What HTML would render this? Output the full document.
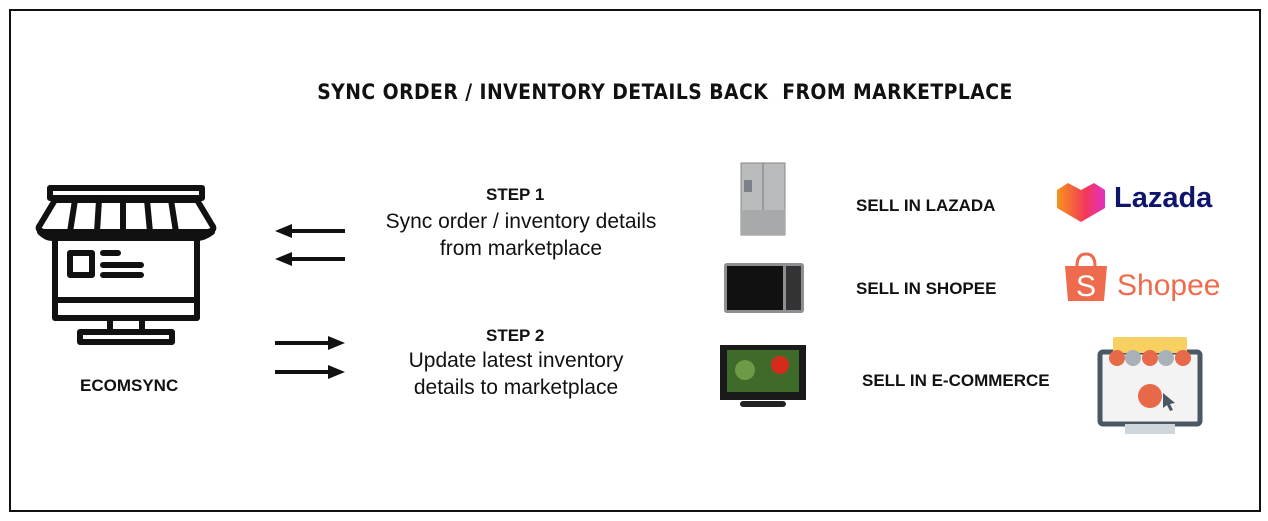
<!DOCTYPE html>
<html><head><style>
body{margin:0;width:1268px;height:521px;background:#fff;position:relative;font-family:"Liberation Sans",sans-serif;overflow:hidden}
.a{position:absolute;white-space:nowrap}
.b{font-weight:bold;color:#111}
</style></head><body>
<div class="a" style="left:9px;top:9px;width:1248px;height:499px;border:2px solid #111"></div>
<div class="a b" style="left:31px;width:1268px;text-align:center;top:80px;font-size:21px;letter-spacing:0.5px;font-family:'DejaVu Sans',sans-serif;transform:scaleX(0.895)">SYNC ORDER / INVENTORY DETAILS BACK &nbsp;FROM MARKETPLACE</div>

<svg class="a" style="left:0;top:0" width="1268" height="521">
 <g fill="none" stroke="#111" stroke-width="6" stroke-linejoin="round" stroke-linecap="round">
  <rect x="50" y="188" width="152" height="10" />
  <path d="M55 200 L40 225 Q36 230 44 232 L208 232 Q216 230 212 225 L197 200 Z"/>
  <path d="M75 200 L70 232 M99 200 L97 232 M123 200 L123 232 M147 200 L150 232 M171 200 L176 232"/>
  <path d="M40 232 Q52 244 64 232 Q76 244 88 232 Q100 244 112 232 Q124 244 136 232 Q148 244 160 232 Q172 244 184 232 Q196 244 212 232"/>
  <rect x="55" y="238" width="142" height="80"/>
  <path d="M55 300 L197 300"/>
  <rect x="70" y="253" width="22" height="22"/>
  <path d="M103 253 L118 253 M103 265 L141 265 M103 275 L141 275"/>
  <rect x="110" y="318" width="32" height="14"/>
  <rect x="80" y="332" width="92" height="10"/>
 </g>
 <g fill="#111">
  <rect x="290" y="229" width="55" height="4"/><polygon points="275,231 292,224 292,238"/>
  <rect x="290" y="257" width="55" height="4"/><polygon points="275,259 292,252 292,266"/>
  <rect x="275" y="341" width="54" height="4"/><polygon points="345,343 328,336 328,350"/>
  <rect x="275" y="370" width="54" height="4"/><polygon points="345,372 328,365 328,379"/>
 </g>
 <rect x="741" y="163" width="44" height="72" fill="#b9bbbd" stroke="#888" />
 <rect x="741" y="210" width="44" height="25" fill="#a7a9ab"/>
 <line x1="763" y1="163" x2="763" y2="210" stroke="#777"/>
 <rect x="744" y="180" width="8" height="12" fill="#7b8089"/>
 <rect x="724" y="263" width="80" height="50" rx="3" fill="#8d8f92"/>
 <rect x="727" y="266" width="56" height="44" fill="#111"/>
 <rect x="786" y="266" width="15" height="44" fill="#333"/>
 <rect x="720" y="345" width="86" height="55" fill="#1a1a1a"/>
 <rect x="727" y="350" width="72" height="42" fill="#3f6b2a"/>
 <circle cx="780" cy="365" r="9" fill="#d62a1a"/>
 <circle cx="745" cy="370" r="10" fill="#6c9a45"/>
 <rect x="740" y="401" width="46" height="6" rx="3" fill="#222"/>
 <defs><linearGradient id="lg" x1="0" x2="1"><stop offset="0" stop-color="#f7941d"/><stop offset="0.6" stop-color="#f2385a"/><stop offset="1" stop-color="#e32fc2"/></linearGradient></defs>
 <path d="M1057 190 L1068 183 L1081 190 L1094 183 L1105 190 L1105 208 L1081 222 L1057 208 Z" fill="url(#lg)"/>
 <path d="M1077 266 Q1077 254 1086 254 Q1095 254 1095 266" fill="none" stroke="#ee6c4d" stroke-width="3"/>
 <path d="M1065 266 L1107 266 L1104 301 L1068 301 Z" fill="#ee6c4d"/>
 <text x="1086" y="296" font-size="30" fill="#fff" text-anchor="middle" font-family="Liberation Sans">S</text>
 <rect x="1100" y="352" width="100" height="72" rx="3" fill="#f3f3f3" stroke="#4a5866" stroke-width="5"/>
 <rect x="1125" y="424" width="50" height="10" fill="#cfd6dc"/>
 <rect x="1113" y="337" width="74" height="16" rx="2" fill="#f8cf61"/>
 <g fill="#e8684a"><circle cx="1117" cy="358" r="8"/><circle cx="1150" cy="358" r="8"/><circle cx="1183" cy="358" r="8"/></g>
 <g fill="#a8b0b8"><circle cx="1133" cy="358" r="8"/><circle cx="1166" cy="358" r="8"/></g>
 <circle cx="1150" cy="396" r="12" fill="#e8684a"/>
 <polygon points="1163,393 1175,403 1170,404 1173,410 1170,411 1167,405 1163,408" fill="#4a5866"/>
</svg>

<div class="a b" style="left:486px;top:185px;font-size:17px">STEP 1</div>
<div class="a" style="left:351px;width:340px;text-align:center;top:208px;font-size:21px;line-height:27px;color:#111">Sync order / inventory details<br>from marketplace</div>
<div class="a b" style="left:486px;top:326px;font-size:17px">STEP 2</div>
<div class="a" style="left:346px;width:340px;text-align:center;top:347px;font-size:21px;line-height:27px;color:#111">Update latest inventory<br>details to marketplace</div>
<div class="a b" style="left:80px;top:376px;font-size:17px">ECOMSYNC</div>
<div class="a b" style="left:856px;top:196px;font-size:17px">SELL IN LAZADA</div>
<div class="a b" style="left:856px;top:279px;font-size:17px">SELL IN SHOPEE</div>
<div class="a b" style="left:862px;top:371px;font-size:17px">SELL IN E-COMMERCE</div>
<div class="a" style="left:1114px;top:182px;font-size:29px;color:#0f146d;font-weight:bold">Lazada</div>
<div class="a" style="left:1117px;top:269px;font-size:30px;color:#ee6c4d">Shopee</div>
</body></html>
